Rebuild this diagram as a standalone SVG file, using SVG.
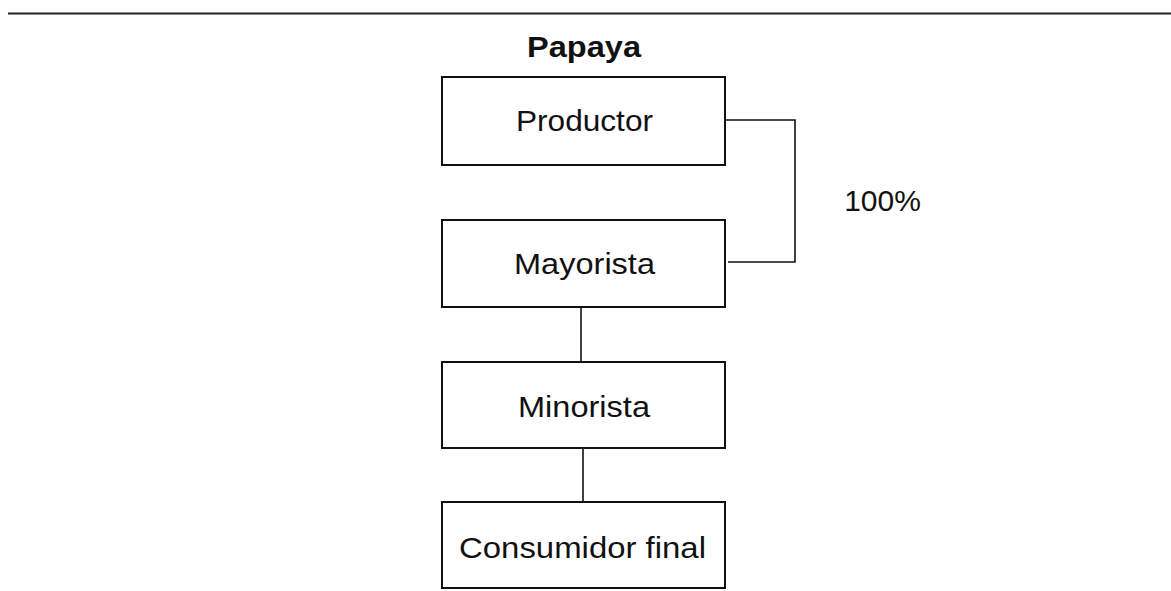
<svg xmlns="http://www.w3.org/2000/svg" width="1171" height="591" viewBox="0 0 1171 591">
<style>
.box{fill:#fff;stroke:#111;stroke-width:2}
.lbl{font-family:"Liberation Sans",Arial,sans-serif;font-size:29px;fill:#111;text-anchor:middle}
.conn{fill:none;stroke:#111;stroke-width:1.6}
</style>
<rect width="1171" height="591" fill="#fff"/>
<line x1="8" y1="13.5" x2="1171" y2="13.5" stroke="#222" stroke-width="2"/>
<text x="584" y="57" class="lbl" style="font-weight:bold" textLength="114" lengthAdjust="spacingAndGlyphs">Papaya</text>
<g id="productor">
<rect class="box" x="442" y="77" width="283" height="88"/>
<text class="lbl" x="584.5" y="131" textLength="137" lengthAdjust="spacingAndGlyphs">Productor</text>
</g>
<g id="mayorista">
<rect class="box" x="442" y="220" width="283" height="87"/>
<text class="lbl" x="584.5" y="274" textLength="141" lengthAdjust="spacingAndGlyphs">Mayorista</text>
</g>
<g id="minorista">
<rect class="box" x="442" y="362" width="283" height="86"/>
<text class="lbl" x="584" y="417" textLength="132" lengthAdjust="spacingAndGlyphs">Minorista</text>
</g>
<g id="consumidor">
<rect class="box" x="442" y="502" width="283" height="86"/>
<text class="lbl" x="582.5" y="558" textLength="247" lengthAdjust="spacingAndGlyphs">Consumidor final</text>
</g>
<g id="connectors">
<polyline class="conn" points="725,120 795,120 795,262 728,262"/>
<line class="conn" x1="581" y1="307" x2="581" y2="362"/>
<line class="conn" x1="583" y1="448" x2="583" y2="502"/>
</g>
<text class="lbl" x="882.5" y="211" style="font-size:30px">100%</text>
</svg>
